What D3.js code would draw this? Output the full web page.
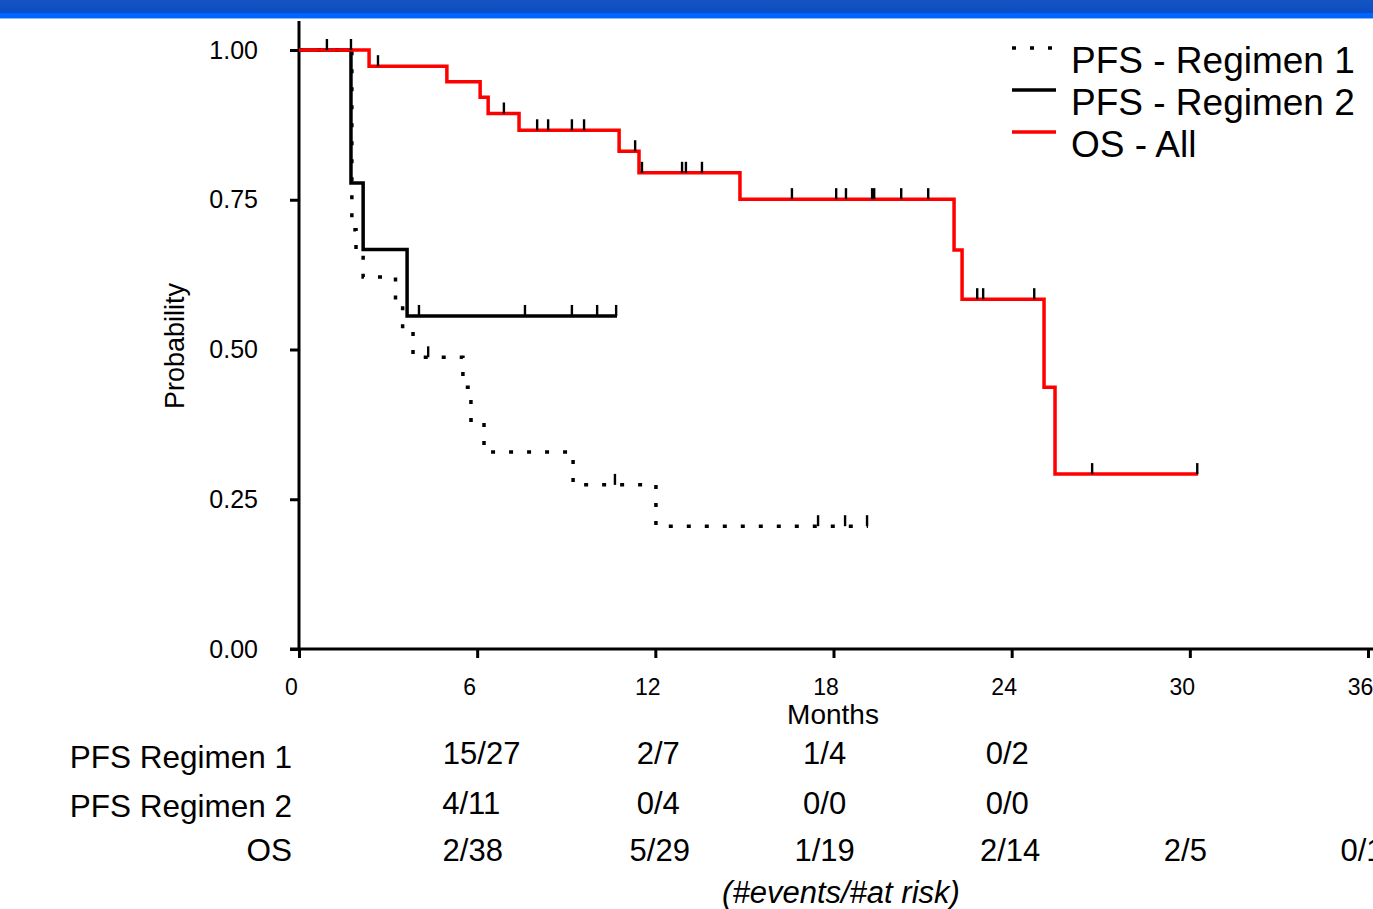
<!DOCTYPE html>
<html>
<head>
<meta charset="utf-8">
<script src="https://cdn.jsdelivr.net/npm/d3@7"></script>
<style>
  body { margin: 0; background: #fff; }
  svg { display: block; font-family: "Liberation Sans", Arial, sans-serif; }
</style>
</head>
<body>
<svg id="chart" width="1373" height="909"></svg>
<script>
// survival curves: step times (months) and probability after each step
var pfs1Times = [0, 1.78, 1.92, 2.16, 3.25, 3.49, 3.84, 5.52, 5.79, 6.23, 9.23, 12.02];
var pfs1Surv  = [1, 0.70, 0.663, 0.621, 0.576, 0.533, 0.487, 0.437, 0.382, 0.329, 0.274, 0.205];
var pfs1End = 19.16;
var pfs1Cens = [4.35, 10.64, 17.48, 18.39, 19.13];

var pfs2Times = [0, 1.75, 2.16, 3.64];
var pfs2Surv  = [1, 0.778, 0.667, 0.556];
var pfs2End = 10.71;
var pfs2Cens = [4.04, 7.61, 9.19, 10.04, 10.68];

var osTimes = [0, 2.36, 4.98, 6.10, 6.37, 7.41, 10.78, 11.45, 14.85, 22.06, 22.33, 25.09, 25.46];
var osSurv  = [1, 0.973, 0.947, 0.921, 0.894, 0.866, 0.831, 0.795, 0.751, 0.666, 0.584, 0.437, 0.292];
var osEnd = 30.28;
var osCens = [0.94, 1.75, 2.66, 6.90, 8.02, 8.39, 9.19, 9.60, 11.32, 11.55, 12.90, 13.03, 13.57,
              16.60, 18.09, 18.42, 19.30, 19.37, 20.28, 21.19, 22.84, 23.04, 24.76, 26.71, 30.25];

var xTicks = [0, 6, 12, 18, 24, 30, 36];
var yTicks = [0, 0.25, 0.5, 0.75, 1];

var legendNames = ["PFS - Regimen 1", "PFS - Regimen 2", "OS - All"];

// at-risk table (column positions in months as they sit under the axis)
var tableRows = ["PFS Regimen 1", "PFS Regimen 2", "OS"];
var colPfs1 = [6.15, 12.1, 17.7, 23.85];
var riskPfs1 = ["15/27", "2/7", "1/4", "0/2"];
var colPfs2 = [5.8, 12.1, 17.7, 23.85];
var riskPfs2 = ["4/11", "0/4", "0/0", "0/0"];
var colOs = [5.85, 12.15, 17.7, 23.95, 29.85, 35.8];
var riskOs   = ["2/38", "5/29", "1/19", "2/14", "2/5", "0/1"];

var svg = d3.select("#chart");

// banner at the top
var defs = svg.append("defs");
var grad = defs.append("linearGradient").attr("id", "band").attr("x1", 0).attr("y1", 0).attr("x2", 0).attr("y2", 1);
grad.append("stop").attr("offset", "0%").attr("stop-color", "#1554c2");
grad.append("stop").attr("offset", "100%").attr("stop-color", "#0a4cc4");
svg.append("rect").attr("x", 0).attr("y", 0).attr("width", 1373).attr("height", 13).attr("fill", "url(#band)");
svg.append("rect").attr("x", 0).attr("y", 13).attr("width", 1373).attr("height", 5).attr("fill", "#0064ff");
svg.append("rect").attr("x", 0).attr("y", 18).attr("width", 1373).attr("height", 1).attr("fill", "#8fb6ff");

var x = d3.scaleLinear().domain([0, 36]).range([299, 1368]);
var y = d3.scaleLinear().domain([0, 1]).range([649, 50]);

// axes
var xAxis = d3.axisBottom(x).tickValues(xTicks).tickSize(9).tickPadding(21).tickSizeOuter(0);
var gx = svg.append("g").attr("transform", "translate(0,649)").call(xAxis);
gx.select(".domain").remove();
gx.selectAll("line").attr("stroke", "#000").attr("stroke-width", 3);
gx.selectAll("text").attr("font-size", 23).attr("fill", "#000").attr("dx", -8);

var yAxis = d3.axisLeft(y).tickValues(yTicks).tickFormat(d3.format(".2f")).tickSize(9).tickPadding(32).tickSizeOuter(0);
var gy = svg.append("g").attr("transform", "translate(299,0)").call(yAxis);
gy.select(".domain").remove();
gy.selectAll("line").attr("stroke", "#000").attr("stroke-width", 3);
gy.selectAll("text").attr("font-size", 25).attr("fill", "#000");

svg.append("line").attr("x1", 290).attr("x2", 1373).attr("y1", 649).attr("y2", 649)
  .attr("stroke", "#000").attr("stroke-width", 3);
svg.append("line").attr("x1", 299).attr("x2", 299).attr("y1", 21).attr("y2", 650)
  .attr("stroke", "#000").attr("stroke-width", 3);

svg.append("text").attr("x", 833).attr("y", 724).attr("text-anchor", "middle")
  .attr("font-size", 28).text("Months");
svg.append("text").attr("transform", "translate(184,346) rotate(-90)").attr("text-anchor", "middle")
  .attr("font-size", 27).text("Probability");

// step function helpers
function stepPoints(times, surv, end) {
  var pts = [];
  for (var i = 0; i < times.length; i++) {
    if (i > 0) pts.push([times[i], surv[i - 1]]);
    pts.push([times[i], surv[i]]);
  }
  pts.push([end, surv[surv.length - 1]]);
  return pts;
}
function survAt(times, surv, t) {
  var v = surv[0];
  for (var i = 0; i < times.length; i++) { if (times[i] <= t) v = surv[i]; }
  return v;
}

var line = d3.line().x(function(d) { return x(d[0]); }).y(function(d) { return y(d[1]); });

svg.append("path").datum(stepPoints(pfs1Times, pfs1Surv, pfs1End)).attr("d", line)
  .attr("fill", "none").attr("stroke", "#000").attr("stroke-width", 3.5).attr("stroke-dasharray", "4,14");
svg.append("path").datum(stepPoints(pfs2Times, pfs2Surv, pfs2End)).attr("d", line)
  .attr("fill", "none").attr("stroke", "#000").attr("stroke-width", 3.5);
svg.append("path").datum(stepPoints(osTimes, osSurv, osEnd)).attr("d", line)
  .attr("fill", "none").attr("stroke", "#ff0000").attr("stroke-width", 3.5);

// censor marks
function drawCens(cens, times, surv) {
  svg.append("g").selectAll("line").data(cens).enter().append("line")
    .attr("x1", function(d) { return x(d); }).attr("x2", function(d) { return x(d); })
    .attr("y1", function(d) { return y(survAt(times, surv, d)) - 11; })
    .attr("y2", function(d) { return y(survAt(times, surv, d)); })
    .attr("stroke", "#000").attr("stroke-width", 2.4);
}
drawCens(pfs1Cens, pfs1Times, pfs1Surv);
drawCens(pfs2Cens, pfs2Times, pfs2Surv);
drawCens(osCens, osTimes, osSurv);

// legend
var leg = svg.append("g");
var legStyles = [
  { stroke: "#000", dash: "4,14", w: 3.5 },
  { stroke: "#000", dash: null, w: 3.5 },
  { stroke: "#ff0000", dash: null, w: 3.5 }
];
legendNames.forEach(function(name, i) {
  var by = 73 + i * 42;
  leg.append("line").attr("x1", 1012).attr("x2", 1056).attr("y1", by - 25).attr("y2", by - 25)
    .attr("stroke", legStyles[i].stroke).attr("stroke-width", legStyles[i].w)
    .attr("stroke-dasharray", legStyles[i].dash);
  leg.append("text").attr("x", 1071).attr("y", by).attr("font-size", 37).text(name);
});

// at-risk table
var rowData = [riskPfs1, riskPfs2, riskOs];
var rowCols = [colPfs1, colPfs2, colOs];
var rowBase = [768, 817, 861];
var valBase = [764, 814, 861];
tableRows.forEach(function(name, i) {
  svg.append("text").attr("x", 292).attr("y", rowBase[i]).attr("text-anchor", "end")
    .attr("font-size", 31.5).text(name);
  svg.append("g").selectAll("text").data(rowData[i]).enter().append("text")
    .attr("x", function(d, j) { return x(rowCols[i][j]); })
    .attr("y", valBase[i]).attr("text-anchor", "middle").attr("font-size", 31)
    .text(function(d) { return d; });
});
svg.append("text").attr("x", 841).attr("y", 903).attr("text-anchor", "middle")
  .attr("font-size", 31).attr("font-style", "italic").text("(#events/#at risk)");
</script>
</body>
</html>
